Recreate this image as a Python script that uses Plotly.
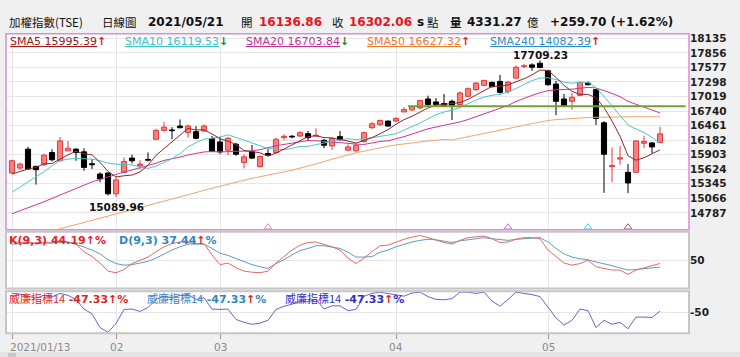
import plotly.graph_objects as go

# ---------------- data ----------------
day_index = list(range(82))
month_tick_idx = [0, 13, 26, 48, 67]
month_tick_text = ["2021/01/13", "02", "03", "04", "05"]

opens = [15551, 15646, 16008, 15678, 15710, 15944, 15786, 15976, 16008, 15957,
         15729, 15532, 15551, 15152, 15564, 15837, 15691, 15811, 16198, 16369,
         16375, 16451, 16325, 16344, 16356, 16211, 16147, 15989, 16103, 15754,
         15957, 15672, 15925, 15944, 16230, 16255, 16261, 16306, 16261, 16179,
         16071, 16249, 15989, 15976, 16154, 16420, 16483, 16547, 16547, 16724,
         16762, 16800, 16971, 16914, 16883, 16927, 16864, 17022, 17149, 17232,
         17289, 17308, 17117, 17371, 17593, 17625, 17656, 17510, 17257, 16971,
         16927, 17041, 17276, 17149, 16515, 15672, 15818, 15564, 15564, 16122,
         16128, 16136.86]
highs = [15805, 15754, 16052, 15691, 15925, 16008, 16242, 16166, 16027, 16027,
         15818, 15564, 15564, 15469, 15849, 15900, 15798, 15944, 16401, 16528,
         16432, 16578, 16483, 16451, 16483, 16261, 16242, 16242, 16134, 15912,
         16090, 15887, 16008, 16230, 16293, 16280, 16356, 16356, 16407, 16198,
         16230, 16356, 16103, 16115, 16344, 16528, 16578, 16559, 16623, 16813,
         16845, 16959, 17035, 16990, 17066, 16959, 17117, 17194, 17295, 17339,
         17308, 17434, 17320, 17612, 17644, 17656, 17709.23, 17529, 17320, 17066,
         17086, 17308, 17308, 17162, 16547, 16040, 16071, 15722, 16179, 16268,
         16147, 16439]
lows = [15532, 15615, 15615, 15329, 15691, 15773, 15773, 15970, 15786, 15596,
        15627, 15374, 15120, 15089.96, 15551, 15735, 15627, 15773, 16185, 16344,
        16198, 16407, 16230, 16198, 16344, 15951, 15912, 15894, 15881, 15640,
        15818, 15659, 15868, 15925, 16179, 16217, 16242, 16179, 16255, 16027,
        15995, 16166, 15976, 15957, 16134, 16401, 16451, 16439, 16534, 16712,
        16737, 16769, 16832, 16832, 16826, 16566, 16851, 17003, 17130, 17213,
        17194, 17073, 17073, 17358, 17561, 17510, 17561, 17225, 16661, 16819,
        16769, 17022, 17232, 16471, 15171, 15374, 15710, 15165, 15551, 16027,
        15932, 16128]
closes = [15786, 15722, 15627, 15615, 15894, 15805, 16166, 16027, 15944, 15659,
          15710, 15437, 15152, 15418, 15773, 15786, 15722, 15798, 16369, 16432,
          16363, 16420, 16451, 16217, 16451, 15963, 15957, 16217, 15912, 15862,
          15837, 15868, 15894, 16198, 16255, 16242, 16325, 16230, 16274, 16084,
          16211, 16192, 16052, 16084, 16325, 16496, 16559, 16451, 16597, 16769,
          16826, 16940, 16864, 16864, 16845, 16851, 17086, 17168, 17276, 17327,
          17206, 17098, 17295, 17580, 17606, 17580, 17574, 17244, 16927, 16832,
          17003, 17289, 17244, 16597, 15912, 15697, 15843, 15361, 16166, 16154,
          16052, 16302.06]

sma5 = [15532, 15583, 15627, 15659, 15729, 15733, 15821, 15901, 15967, 15920,
        15901, 15755, 15580, 15475, 15498, 15513, 15570, 15699, 15890, 16021,
        16137, 16276, 16407, 16377, 16380, 16300, 16208, 16161, 16100, 15982,
        15957, 15939, 15875, 15932, 16010, 16091, 16183, 16250, 16265, 16231,
        16225, 16198, 16163, 16125, 16173, 16230, 16303, 16383, 16486, 16574,
        16640, 16717, 16799, 16853, 16868, 16873, 16902, 16963, 17045, 17142,
        17213, 17215, 17240, 17301, 17357, 17432, 17527, 17517, 17386, 17231,
        17116, 17059, 17059, 16993, 16809, 16548, 16259, 15882, 15796, 15844,
        15915, 15995.39]
sma10 = [15183, 15279, 15374, 15469, 15577, 15691, 15786, 15818, 15830, 15825,
         15817, 15788, 15741, 15721, 15709, 15707, 15663, 15640, 15683, 15760,
         15825, 15923, 16053, 16134, 16201, 16219, 16242, 16284, 16239, 16181,
         16129, 16074, 16018, 16016, 15996, 16024, 16061, 16063, 16099, 16121,
         16158, 16191, 16207, 16195, 16202, 16228, 16251, 16273, 16306, 16374,
         16435, 16510, 16591, 16670, 16721, 16757, 16810, 16881, 16949, 17005,
         17043, 17059, 17102, 17173, 17250, 17323, 17371, 17379, 17344, 17294,
         17274, 17293, 17288, 17190, 17020, 16832, 16659, 16471, 16395, 16327,
         16232, 16119.53]
sma20 = [14770, 14825, 14880, 14940, 15000, 15065, 15130, 15195, 15260, 15320,
         15380, 15430, 15480, 15525, 15570, 15610, 15650, 15695, 15740, 15793,
         15821, 15856, 15897, 15928, 15955, 15963, 15953, 15962, 15961, 15971,
         15977, 15999, 16036, 16075, 16099, 16122, 16152, 16174, 16169, 16151,
         16144, 16133, 16113, 16106, 16099, 16126, 16156, 16168, 16203, 16248,
         16297, 16351, 16399, 16433, 16462, 16493, 16531, 16577, 16628, 16690,
         16739, 16785, 16847, 16922, 16986, 17040, 17091, 17130, 17147, 17150,
         17159, 17176, 17195, 17182, 17135, 17078, 17015, 16925, 16870, 16811,
         16753, 16703.84]
sma50 = [14230, 14275, 14320, 14360, 14400, 14440, 14480, 14520, 14560, 14600,
         14645, 14685, 14725, 14765, 14810, 14850, 14890, 14930, 14975, 15015,
         15055, 15095, 15135, 15175, 15220, 15260, 15300, 15340, 15380, 15420,
         15450, 15480, 15510, 15540, 15565, 15605, 15645, 15685, 15720, 15770,
         15815, 15860, 15905, 15940, 15970, 16005, 16040, 16065, 16090, 16110,
         16135, 16150, 16165, 16180, 16195, 16185, 16215, 16245, 16280, 16310,
         16340, 16370, 16400, 16435, 16465, 16500, 16530, 16559, 16575, 16588,
         16600, 16608, 16615, 16620, 16625, 16630, 16632, 16633, 16632, 16630,
         16628, 16627.32]

k_vals = [85, 83, 84, 80, 83, 82, 86, 84, 80, 66, 57, 45, 30, 27, 33, 44, 50, 56, 66, 75,
          81, 84, 83, 81, 81, 60, 42, 45, 36, 30, 28, 27, 30, 45, 57, 69, 78, 83, 84, 80,
          75, 69, 54, 44, 54, 66, 77, 78, 84, 89, 93, 96, 92, 87, 83, 80, 87, 92, 94, 95,
          90, 83, 84, 89, 92, 92, 90, 69, 57, 45, 41, 44, 50, 38, 35, 32, 32, 24, 32, 36,
          39, 44.19]
d_vals = [80, 81, 82, 82, 82, 82, 83, 83, 80, 75, 69, 62, 51, 44, 41, 42, 45, 48, 54, 62,
          69, 75, 80, 80, 80, 72, 63, 59, 53, 47, 42, 38, 35, 44, 51, 60, 68, 72, 77, 77,
          75, 72, 65, 56, 56, 57, 65, 69, 75, 80, 84, 87, 89, 88, 86, 83, 86, 88, 90, 92,
          90, 88, 87, 89, 90, 92, 92, 84, 72, 62, 56, 53, 51, 47, 44, 40, 36, 32, 33, 35,
          36, 37.44]
wr_vals = [-3, -5, -10, -15, -8, -12, -3, -8, -18, -42, -54, -88, -100, -78, -43, -42, -48, -38, -18, -10,
           -14, -8, -6, -18, -14, -42, -43, -42, -68, -75, -80, -77, -70, -43, -35, -30, -22, -24, -18, -42,
           -34, -34, -46, -43, -10, -3, 0, -3, -6, -10, -2, 0, -11, -18, -19, -16, 0, 0, -3, 0,
           -22, -35, -18, 0, -3, -6, -11, -38, -64, -82, -70, -42, -46, -88, -70, -80, -75, -91, -62, -62,
           -63, -47.33]

price_ticks = [18135, 17856, 17577, 17298, 17019, 16740, 16461, 16182, 15903, 15624, 15345, 15066, 14787]
support_level = 16832
support_span = [49.5, 84.2]
signal_idx = [32, 62, 72, 77]
signal_colors = ["#E58AB8", "#C86CC8", "#58C8D2", "#A4507E"]

# ---------------- helpers ----------------
W, H = 740, 357
def fx(p):
    return p / W
def fy(p):
    return 1 - p / H

X0, X1 = 6, 689
XR = [(X0 - 12) / 8, (X1 - 12) / 8]
Y_TOP, Y_BOT = 18135 + 4.5 * 19.023, 18135 - 193 * 19.023

UP_FILL, UP_EDGE, DN = "#F47F7F", "#E23A3A", "#000000"

fig = go.Figure()

# wicks (split around body so they don't cross bodies)
for want_up, col in ((True, UP_EDGE), (False, DN)):
    wx, wy = [], []
    for i, o, h, l, c in zip(day_index, opens, highs, lows, closes):
        if (c >= o) != want_up:
            continue
        top, bot = max(o, c), min(o, c)
        wx += [i, i, None, i, i, None]
        wy += [h, top, None, bot, l, None]
    fig.add_trace(go.Scatter(x=wx, y=wy, mode="lines", line=dict(color=col, width=1),
                             hoverinfo="skip", xaxis="x", yaxis="y"))

for want_up, fill, edge in ((True, UP_FILL, UP_EDGE), (False, DN, DN)):
    bx, by, bb = [], [], []
    for i, o, c in zip(day_index, opens, closes):
        if (c >= o) != want_up:
            continue
        bx.append(i)
        by.append(max(abs(c - o), 14))
        bb.append(min(o, c))
    fig.add_trace(go.Bar(x=bx, y=by, base=bb, width=0.64,
                         marker=dict(color=fill, line=dict(color=edge, width=1)),
                         xaxis="x", yaxis="y", hoverinfo="skip"))

ma_styles = [(sma50, "#F0A46E"), (sma20, "#C8369E"), (sma10, "#4EC6C6"), (sma5, "#8E2A2A")]
for vals, col in ma_styles:
    fig.add_trace(go.Scatter(x=day_index, y=vals, mode="lines", line=dict(color=col, width=1),
                             xaxis="x", yaxis="y", hoverinfo="skip"))

fig.add_trace(go.Scatter(x=support_span, y=[support_level, support_level], mode="lines",
                         line=dict(color="#6FA32E", width=2), xaxis="x", yaxis="y"))

fig.add_trace(go.Scatter(x=signal_idx, y=[Y_BOT + 2.5 * 19.023] * len(signal_idx), mode="markers",
                         marker=dict(symbol="triangle-up-open", size=7, color=signal_colors,
                                     line=dict(width=1, color=signal_colors)),
                         xaxis="x", yaxis="y", cliponaxis=False))

# KD
fig.add_trace(go.Scatter(x=day_index, y=d_vals, mode="lines", line=dict(color="#5E9CC6", width=1),
                         xaxis="x2", yaxis="y2"))
fig.add_trace(go.Scatter(x=day_index, y=k_vals, mode="lines", line=dict(color="#E36A6A", width=1),
                         xaxis="x2", yaxis="y2"))
# Williams %R
fig.add_trace(go.Scatter(x=day_index, y=wr_vals, mode="lines", line=dict(color="#6E5FD2", width=1),
                         xaxis="x3", yaxis="y3"))

# ---------------- layout ----------------
main_dom = [fy(229), fy(32)]
kd_dom = [fy(288), fy(231)]
wr_dom = [fy(333), fy(291)]
xdom = [fx(X0), fx(X1)]
GRID = "#E6E6E6"
TICKFONT = dict(family="DejaVu Sans", size=10.5, color="#1E1E1E")

common_x = dict(domain=xdom, range=XR, showticklabels=False, tickvals=month_tick_idx,
                showgrid=True, gridcolor=GRID, zeroline=False, showline=False, ticks="")
fig.update_layout(
    width=W, height=H, margin=dict(l=0, r=0, t=0, b=0),
    paper_bgcolor="#F0F0F0", plot_bgcolor="#FFFFFF", showlegend=False, barmode="overlay",
    xaxis=dict(anchor="y", **common_x),
    xaxis2=dict(anchor="y2", **common_x),
    xaxis3=dict(anchor="y3", domain=xdom, range=XR, tickvals=month_tick_idx, showticklabels=False,
                showgrid=True, gridcolor=GRID, zeroline=False, ticks="outside", ticklen=5,
                tickcolor="#9A9A9A"),
    yaxis=dict(domain=main_dom, range=[Y_BOT, Y_TOP], side="right",
               anchor="x", tickvals=price_ticks, ticktext=["<b>%d</b>" % v for v in price_ticks],
               tickfont=TICKFONT, showgrid=True, gridcolor=GRID, zeroline=False, ticks=""),
    yaxis2=dict(domain=kd_dom, range=[-2, 103], side="right", anchor="x2", tickvals=[50],
                ticktext=["<b>50</b>"], tickfont=TICKFONT, showgrid=True, gridcolor=GRID,
                zeroline=False, ticks=""),
    yaxis3=dict(domain=wr_dom, range=[-102, 2], side="right", anchor="x3", tickvals=[-50],
                ticktext=["<b>-50</b>"], tickfont=TICKFONT, showgrid=True, gridcolor=GRID,
                zeroline=False, ticks=""),
)

shapes = [
    dict(type="rect", xref="paper", yref="paper", x0=fx(X0), x1=fx(X1), y0=fy(229), y1=fy(32),
         line=dict(color="#D68FD6", width=1.5), layer="above"),
    dict(type="rect", xref="paper", yref="paper", x0=fx(X0), x1=fx(X1), y0=fy(288), y1=fy(231),
         line=dict(color="#C6C6C6", width=2), layer="above"),
    dict(type="rect", xref="paper", yref="paper", x0=fx(X0), x1=fx(X1), y0=fy(333), y1=fy(291),
         line=dict(color="#C6C6C6", width=2), layer="above"),
    # bottom scrollbar strip
    dict(type="rect", xref="paper", yref="paper", x0=0, x1=1, y0=0, y1=fy(352),
         line=dict(width=0), fillcolor="#E4E4E4", layer="below"),
    dict(type="rect", xref="paper", yref="paper", x0=fx(8), x1=fx(16), y0=0, y1=fy(353),
         line=dict(width=0), fillcolor="#C8C8C8", layer="below"),
]
fig.update_layout(shapes=shapes)

CJK = "Noto Sans CJK TC"
NUM = "DejaVu Sans"
ann = []
def txt(x, y, s, size=11, color="#111", family=NUM, anchor="left"):
    ann.append(dict(xref="paper", yref="paper", x=fx(x), y=fy(y), text=s, showarrow=False,
                    xanchor=anchor, yanchor="middle", font=dict(family=family, size=size, color=color)))

# header
HY = 20
txt(7, HY, "加權指數(TSE)", 11.5, "#111", CJK)
txt(100, HY, "日線圖", 11.5, "#111", CJK)
txt(146, HY, "<b>2021/05/21</b>", 12, "#111")
txt(239, HY, "開", 11.5, "#111", CJK)
txt(257, HY, "<b>16136.86</b>", 12, "#E8141B")
txt(330, HY, "收", 11.5, "#111", CJK)
txt(347, HY, "<b>16302.06</b>", 12, "#E8141B")
txt(415, HY, "<b>s</b>", 12, "#111")
txt(425, HY, "點", 11.5, "#111", CJK)
txt(448, HY, "<b>量</b>", 11.5, "#111", CJK)
txt(465, HY, "<b>4331.27</b>", 12, "#111")
txt(525, HY, "億", 11.5, "#111", CJK)
txt(548, HY, "<b>+259.70 (+1.62%)</b>", 12, "#111")

# legend row
UP = "<span style='color:#E0201E'><b>↑</b></span>"
DOWN = "<span style='color:#1E8A1E'><b>↓</b></span>"
LY = 40
def ul(s, col):
    return "<span style='text-decoration:underline;color:%s'>%s</span>" % (col, s)
txt(8, LY, ul("SMA5 15995.39", "#A01818") + UP, 11, "#A01818")
txt(123, LY, ul("SMA10 16119.53", "#3EC4C4") + DOWN, 11, "#3EC4C4")
txt(244, LY, ul("SMA20 16703.84", "#C2309A") + DOWN, 11, "#C2309A")
txt(365, LY, ul("SMA50 16627.32", "#EC7A2E") + UP, 11, "#EC7A2E")
txt(488, LY, ul("SMA240 14082.39", "#2E8CCC") + UP, 11, "#2E8CCC")

# KD texts
txt(7, 240, "<b>K(9,3) 44.19</b>" + UP + "<b>%</b>", 11, "#E42525")
txt(117, 240, "<b>D(9,3) 37.44</b>" + UP + "<b>%</b>", 11, "#2F86C2")
# W%R texts
WTXT = "<span style='font-family:Noto Sans CJK TC'>威廉指標14</span> <b>-47.33</b>" + UP + "<b>%</b>"
txt(7, 298, WTXT, 11, "#E42525")
txt(145, 298, WTXT, 11, "#2F86C2")
txt(283, 298, WTXT, 11, "#3030C8")

# x-axis labels (month ticks)
for idx, lab in zip(month_tick_idx, month_tick_text):
    first = idx == month_tick_idx[0]
    ann.append(dict(x=idx - (0.5 if first else 0), xref="x3", y=fy(347), yref="paper", text=lab,
                    showarrow=False, xanchor="left" if first else "center", yanchor="middle",
                    font=dict(family=NUM, size=10.5, color="#8A8A8A")))

# extreme labels
ann.append(dict(x=13, y=lows[13], xref="x", yref="y", text="<b>15089.96</b>", showarrow=False,
                yanchor="top", yshift=-2, font=dict(family=NUM, size=10.5, color="#111")))
ann.append(dict(x=66, y=highs[66], xref="x", yref="y", text="<b>17709.23</b>", showarrow=False,
                yanchor="bottom", yshift=-3, font=dict(family=NUM, size=10.5, color="#111")))
fig.update_layout(annotations=ann)

fig.write_html("out.html", config={"displayModeBar": False},
               post_script="document.body.style.margin='0';document.body.style.overflow='hidden';")
